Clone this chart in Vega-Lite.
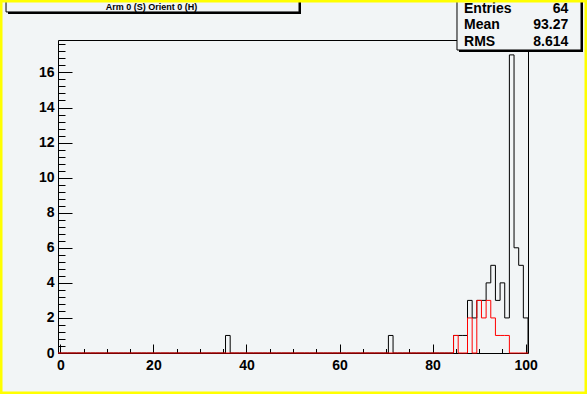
{
  "$schema": "https://vega.github.io/schema/vega-lite/v6.json",
  "width": 470,
  "height": 313,
  "autosize": "none",
  "padding": {"left": 58, "top": 40, "right": 59, "bottom": 41},
  "background": "#f2f5f6",
  "config": {
    "view": {"stroke": "#000000", "strokeWidth": 1, "fill": "#f2f5f6"},
    "axis": {
      "domain": false, "grid": false, "title": null,
      "labelFont": "Liberation Sans", "labelFontWeight": "bold", "labelFontSize": 14, "labelColor": "#000000",
      "tickColor": "#000000", "tickWidth": 1
    }
  },
  "datasets": {
    "hist": [
      {"edge": -0.5, "all": 0, "sel": 0}, {"edge": 0.5, "all": 0, "sel": 0}, {"edge": 1.5, "all": 0, "sel": 0}, {"edge": 2.5, "all": 0, "sel": 0},
      {"edge": 3.5, "all": 0, "sel": 0}, {"edge": 4.5, "all": 0, "sel": 0}, {"edge": 5.5, "all": 0, "sel": 0}, {"edge": 6.5, "all": 0, "sel": 0},
      {"edge": 7.5, "all": 0, "sel": 0}, {"edge": 8.5, "all": 0, "sel": 0}, {"edge": 9.5, "all": 0, "sel": 0}, {"edge": 10.5, "all": 0, "sel": 0},
      {"edge": 11.5, "all": 0, "sel": 0}, {"edge": 12.5, "all": 0, "sel": 0}, {"edge": 13.5, "all": 0, "sel": 0}, {"edge": 14.5, "all": 0, "sel": 0},
      {"edge": 15.5, "all": 0, "sel": 0}, {"edge": 16.5, "all": 0, "sel": 0}, {"edge": 17.5, "all": 0, "sel": 0}, {"edge": 18.5, "all": 0, "sel": 0},
      {"edge": 19.5, "all": 0, "sel": 0}, {"edge": 20.5, "all": 0, "sel": 0}, {"edge": 21.5, "all": 0, "sel": 0}, {"edge": 22.5, "all": 0, "sel": 0},
      {"edge": 23.5, "all": 0, "sel": 0}, {"edge": 24.5, "all": 0, "sel": 0}, {"edge": 25.5, "all": 0, "sel": 0}, {"edge": 26.5, "all": 0, "sel": 0},
      {"edge": 27.5, "all": 0, "sel": 0}, {"edge": 28.5, "all": 0, "sel": 0}, {"edge": 29.5, "all": 0, "sel": 0}, {"edge": 30.5, "all": 0, "sel": 0},
      {"edge": 31.5, "all": 0, "sel": 0}, {"edge": 32.5, "all": 0, "sel": 0}, {"edge": 33.5, "all": 0, "sel": 0}, {"edge": 34.5, "all": 0, "sel": 0},
      {"edge": 35.5, "all": 1, "sel": 0}, {"edge": 36.5, "all": 0, "sel": 0}, {"edge": 37.5, "all": 0, "sel": 0}, {"edge": 38.5, "all": 0, "sel": 0},
      {"edge": 39.5, "all": 0, "sel": 0}, {"edge": 40.5, "all": 0, "sel": 0}, {"edge": 41.5, "all": 0, "sel": 0}, {"edge": 42.5, "all": 0, "sel": 0},
      {"edge": 43.5, "all": 0, "sel": 0}, {"edge": 44.5, "all": 0, "sel": 0}, {"edge": 45.5, "all": 0, "sel": 0}, {"edge": 46.5, "all": 0, "sel": 0},
      {"edge": 47.5, "all": 0, "sel": 0}, {"edge": 48.5, "all": 0, "sel": 0}, {"edge": 49.5, "all": 0, "sel": 0}, {"edge": 50.5, "all": 0, "sel": 0},
      {"edge": 51.5, "all": 0, "sel": 0}, {"edge": 52.5, "all": 0, "sel": 0}, {"edge": 53.5, "all": 0, "sel": 0}, {"edge": 54.5, "all": 0, "sel": 0},
      {"edge": 55.5, "all": 0, "sel": 0}, {"edge": 56.5, "all": 0, "sel": 0}, {"edge": 57.5, "all": 0, "sel": 0}, {"edge": 58.5, "all": 0, "sel": 0},
      {"edge": 59.5, "all": 0, "sel": 0}, {"edge": 60.5, "all": 0, "sel": 0}, {"edge": 61.5, "all": 0, "sel": 0}, {"edge": 62.5, "all": 0, "sel": 0},
      {"edge": 63.5, "all": 0, "sel": 0}, {"edge": 64.5, "all": 0, "sel": 0}, {"edge": 65.5, "all": 0, "sel": 0}, {"edge": 66.5, "all": 0, "sel": 0},
      {"edge": 67.5, "all": 0, "sel": 0}, {"edge": 68.5, "all": 0, "sel": 0}, {"edge": 69.5, "all": 0, "sel": 0}, {"edge": 70.5, "all": 1, "sel": 0},
      {"edge": 71.5, "all": 0, "sel": 0}, {"edge": 72.5, "all": 0, "sel": 0}, {"edge": 73.5, "all": 0, "sel": 0}, {"edge": 74.5, "all": 0, "sel": 0},
      {"edge": 75.5, "all": 0, "sel": 0}, {"edge": 76.5, "all": 0, "sel": 0}, {"edge": 77.5, "all": 0, "sel": 0}, {"edge": 78.5, "all": 0, "sel": 0},
      {"edge": 79.5, "all": 0, "sel": 0}, {"edge": 80.5, "all": 0, "sel": 0}, {"edge": 81.5, "all": 0, "sel": 0}, {"edge": 82.5, "all": 0, "sel": 0},
      {"edge": 83.5, "all": 0, "sel": 0}, {"edge": 84.5, "all": 1, "sel": 1}, {"edge": 85.5, "all": 1, "sel": 0}, {"edge": 86.5, "all": 1, "sel": 0},
      {"edge": 87.5, "all": 3, "sel": 2}, {"edge": 88.5, "all": 2, "sel": 0}, {"edge": 89.5, "all": 3, "sel": 3}, {"edge": 90.5, "all": 3, "sel": 2},
      {"edge": 91.5, "all": 4, "sel": 3}, {"edge": 92.5, "all": 5, "sel": 2}, {"edge": 93.5, "all": 3, "sel": 1}, {"edge": 94.5, "all": 4, "sel": 1},
      {"edge": 95.5, "all": 2, "sel": 1}, {"edge": 96.5, "all": 17, "sel": 0}, {"edge": 97.5, "all": 6, "sel": 0}, {"edge": 98.5, "all": 5, "sel": 0},
      {"edge": 99.5, "all": 2, "sel": 0}, {"edge": 100.5, "all": 0, "sel": 0}
    ],
    "stats": [
      {"title": "Arm 0 (S) Orient 0 (H)", "labels": "Entries|Mean|RMS", "values": "64|93.27|8.614"}
    ]
  },
  "layer": [
    {
      "data": {"name": "hist"},
      "mark": {"type": "line", "interpolate": "step-after", "color": "#000000", "strokeWidth": 1},
      "encoding": {
        "x": {"field": "edge", "type": "quantitative", "scale": {"domain": [-0.5, 100.5], "nice": false, "zero": false},
              "axis": {"orient": "bottom", "values": [0, 20, 40, 60, 80, 100], "tickSize": -9, "labelPadding": 14}},
        "y": {"field": "all", "type": "quantitative", "scale": {"domain": [0, 17.85], "nice": false},
              "axis": {"orient": "left", "values": [0, 2, 4, 6, 8, 10, 12, 14, 16], "tickSize": -14, "labelPadding": 18}}
      }
    },
    {
      "data": {"name": "hist"},
      "mark": {"type": "line", "interpolate": "step-after", "color": "#ff0000", "strokeWidth": 1},
      "encoding": {
        "x": {"field": "edge", "type": "quantitative",
              "axis": {"orient": "bottom", "values": [0, 5, 10, 15, 20, 25, 30, 35, 40, 45, 50, 55, 60, 65, 70, 75, 80, 85, 90, 95, 100], "tickSize": -4.5, "labels": false}},
        "y": {"field": "sel", "type": "quantitative",
              "axis": {"orient": "left", "values": [0.4, 0.8, 1.2, 1.6, 2.4, 2.8, 3.2, 3.6, 4.4, 4.8, 5.2, 5.6, 6.4, 6.8, 7.2, 7.6, 8.4, 8.8, 9.2, 9.6, 10.4, 10.8, 11.2, 11.6, 12.4, 12.8, 13.2, 13.6, 14.4, 14.8, 15.2, 15.6, 16.4, 16.8, 17.2, 17.6], "tickSize": -7, "labels": false}}
      }
    },
    {
      "data": {"name": "stats"},
      "mark": {"type": "rect", "fill": "#000000", "xOffset": 2, "x2Offset": 2, "yOffset": 2, "y2Offset": 2},
      "encoding": {
        "x": {"datum": -11.67, "type": "quantitative", "axis": null}, "x2": {"datum": 51.29},
        "y": {"datum": 19.45, "type": "quantitative", "axis": null}, "y2": {"datum": 20.6}
      }
    },
    {
      "data": {"name": "stats"},
      "mark": {"type": "rect", "fill": "#f2f5f6", "stroke": "#000000", "strokeWidth": 1},
      "encoding": {
        "x": {"datum": -11.67, "type": "quantitative", "axis": null}, "x2": {"datum": 51.29},
        "y": {"datum": 19.45, "type": "quantitative", "axis": null}, "y2": {"datum": 20.6}
      }
    },
    {
      "data": {"name": "stats"},
      "mark": {"type": "text", "font": "Liberation Sans", "fontWeight": "bold", "fontSize": 9, "align": "center", "baseline": "middle", "color": "#000000"},
      "encoding": {
        "x": {"datum": 19.59, "type": "quantitative", "axis": null},
        "y": {"datum": 19.73, "type": "quantitative", "axis": null},
        "text": {"field": "title"}
      }
    },
    {
      "data": {"name": "stats"},
      "mark": {"type": "rect", "fill": "#000000", "xOffset": 2, "x2Offset": 2, "yOffset": 2, "y2Offset": 2},
      "encoding": {
        "x": {"datum": 85.24, "type": "quantitative", "axis": null}, "x2": {"datum": 111.89},
        "y": {"datum": 17.28, "type": "quantitative", "axis": null}, "y2": {"datum": 20.6}
      }
    },
    {
      "data": {"name": "stats"},
      "mark": {"type": "rect", "fill": "#f2f5f6", "stroke": "#000000", "strokeWidth": 1},
      "encoding": {
        "x": {"datum": 85.24, "type": "quantitative", "axis": null}, "x2": {"datum": 111.89},
        "y": {"datum": 17.28, "type": "quantitative", "axis": null}, "y2": {"datum": 20.6}
      }
    },
    {
      "data": {"name": "stats"},
      "mark": {"type": "text", "font": "Liberation Sans", "fontWeight": "bold", "fontSize": 14, "align": "left", "baseline": "alphabetic", "lineBreak": "|", "lineHeight": 16.5, "color": "#000000"},
      "encoding": {
        "x": {"datum": 86.75, "type": "quantitative", "axis": null},
        "y": {"datum": 19.39, "type": "quantitative", "axis": null},
        "text": {"field": "labels"}
      }
    },
    {
      "data": {"name": "stats"},
      "mark": {"type": "text", "font": "Liberation Sans", "fontWeight": "bold", "fontSize": 14, "align": "right", "baseline": "alphabetic", "lineBreak": "|", "lineHeight": 16.5, "color": "#000000"},
      "encoding": {
        "x": {"datum": 109.16, "type": "quantitative", "axis": null},
        "y": {"datum": 19.39, "type": "quantitative", "axis": null},
        "text": {"field": "values"}
      }
    },
    {
      "data": {"name": "stats"},
      "mark": {"type": "rect", "fill": null, "stroke": "#ffff00", "strokeWidth": 5},
      "encoding": {
        "x": {"datum": -12.96, "type": "quantitative", "axis": null}, "x2": {"datum": 113.18},
        "y": {"datum": -2.338, "type": "quantitative", "axis": null}, "y2": {"datum": 20.13}
      }
    }
  ],
  "resolve": {"axis": {"x": "independent", "y": "independent"}}
}
